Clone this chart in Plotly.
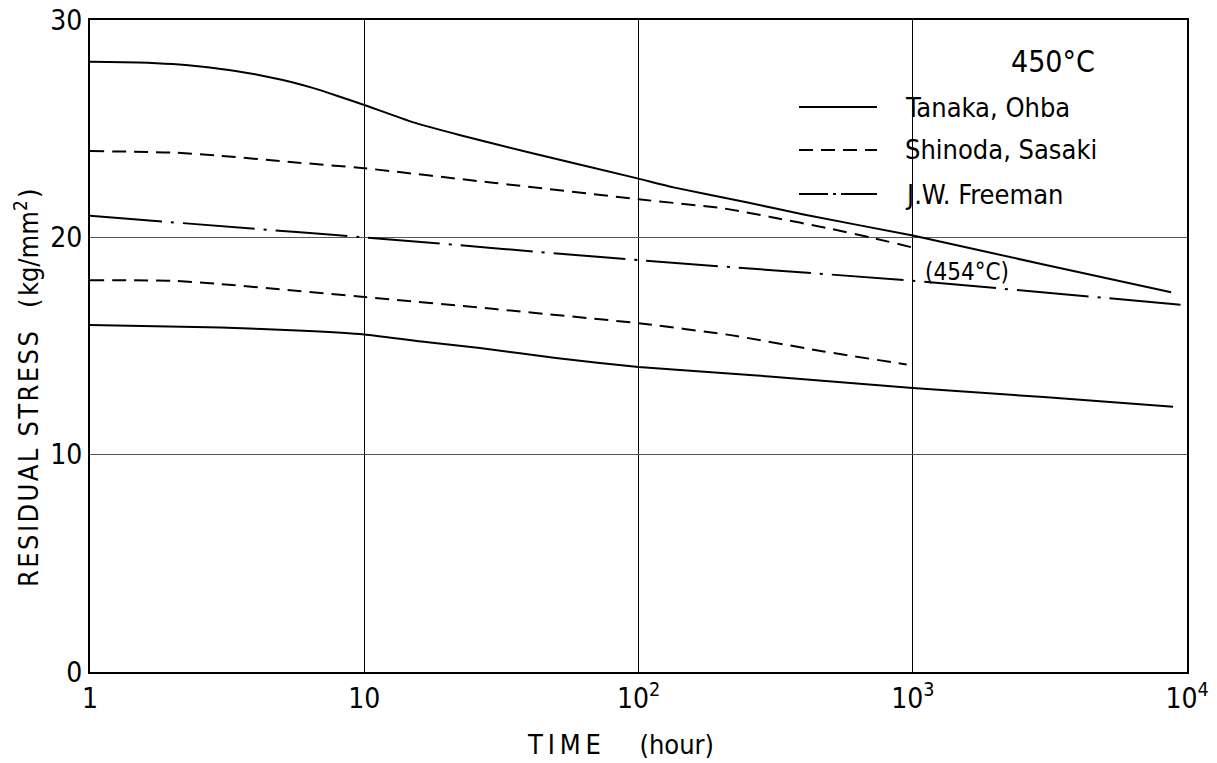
import math
import plotly.graph_objects as go

# ---- data ----
tanaka_upper_t = [1, 1.5, 2, 3, 4, 5, 6, 7, 8, 10, 15, 22.4, 40, 100, 134, 250, 400, 1000, 3000, 8750]
tanaka_upper_s = [28.08, 28.05, 27.97, 27.75, 27.5, 27.25, 27.0, 26.75, 26.5, 26.09, 25.3, 24.7,
                  23.9, 22.7, 22.3, 21.6, 21.05, 20.08, 18.75, 17.47]

shinoda_upper_t = [1, 2, 3, 5, 10, 30, 100, 200, 300, 500, 700, 1000]
shinoda_upper_s = [23.97, 23.9, 23.75, 23.5, 23.18, 22.5, 21.75, 21.35, 20.95, 20.4, 20.0, 19.53]

freeman_t = [1, 5.83, 10, 100, 1000, 9470]
freeman_s = [20.99, 20.23, 20.0, 18.95, 18.0, 16.9]

shinoda_lower_t = [1, 2, 3, 5, 10, 30, 100, 217, 473, 950]
shinoda_lower_s = [18.03, 18.0, 17.85, 17.6, 17.26, 16.7, 16.05, 15.5, 14.75, 14.15]

tanaka_lower_t = [1, 3, 6, 10, 17.4, 26.4, 50, 100, 300, 1000, 3000, 8900]
tanaka_lower_s = [15.97, 15.85, 15.7, 15.53, 15.16, 14.91, 14.45, 14.03, 13.6, 13.07, 12.65, 12.2]

x_tickvals = [1, 10, 100, 1000, 10000]
x_ticktext = ["1", "10", "10<sup>2</sup>", "10<sup>3</sup>", "10<sup>4</sup>"]
y_tickvals = [0, 10, 20, 30]
y_ticktext = ["0", "10", "20", "30"]

legend_names = ["Tanaka, Ohba", "Shinoda, Sasaki", "J.W. Freeman"]
note_t, note_s, note_text = 1090, 18.4, "(454°C)"

FONT = "DejaVu Sans Condensed, Liberation Sans Narrow, DejaVu Sans, sans-serif"
SOLID = "solid"
DASH = "14px,8px"
DASHDOT = "72px,9px,3px,9px"
DASHDOT_KEY = "29px,5px,3px,5px,40px"

fig = go.Figure()

def add_line(t, s, dash, name):
    fig.add_trace(go.Scatter(x=t, y=s, mode="lines", name=name,
                             line=dict(color="black", width=2, dash=dash, shape="spline", smoothing=0.4),
                             showlegend=False))

add_line(tanaka_upper_t, tanaka_upper_s, SOLID, legend_names[0])
add_line(shinoda_upper_t, shinoda_upper_s, DASH, legend_names[1])
add_line(freeman_t, freeman_s, DASHDOT, legend_names[2])
add_line(shinoda_lower_t, shinoda_lower_s, DASH, legend_names[1])
add_line(tanaka_lower_t, tanaka_lower_s, SOLID, legend_names[0])

W, H = 1217, 763
L, R, T, B = 90, 30, 20, 91
pw, ph = W - L - R, H - T - B

def px_to_paper(xp, yp):
    return (xp - L) / pw, 1 - (yp - T) / ph

# legend (keys drawn as shapes, labels as text)
dashes = [SOLID, DASH, DASHDOT_KEY]
ys = [107, 150, 194]
for name, d, yp in zip(legend_names, dashes, ys):
    x0, y0 = px_to_paper(799, yp)
    x1, _ = px_to_paper(877, yp)
    fig.add_shape(type="line", xref="paper", yref="paper", x0=x0, x1=x1, y0=y0, y1=y0,
                  line=dict(color="black", width=2, dash=d))
    tx, ty = px_to_paper(903, yp)
    fig.add_annotation(xref="paper", yref="paper", x=tx, y=ty, text=name, showarrow=False,
                       xanchor="left", yanchor="middle",
                       font=dict(family=FONT, size=27, color="black"))

tx, ty = px_to_paper(1053, 62)
fig.add_annotation(xref="paper", yref="paper", x=tx, y=ty, text="450°C", showarrow=False,
                   xanchor="center", yanchor="middle",
                   font=dict(family=FONT, size=30, color="black"))

fig.add_annotation(x=math.log10(note_t), y=note_s, xref="x", yref="y", text=note_text, showarrow=False,
                   xanchor="left", yanchor="middle",
                   font=dict(family=FONT, size=24, color="black"))

# axis titles
hs = "\u200a"
ytitle = hs.join("RESIDUAL") + "\u2002" + hs.join("STRESS") + "&nbsp;&nbsp;&nbsp;(" + hs + "kg/mm<sup>2</sup>" + hs + ")"
tx, ty = px_to_paper(26, 388)
fig.add_annotation(xref="paper", yref="paper", x=tx, y=ty,
                   text=ytitle,
                   textangle=-90, showarrow=False, xanchor="center", yanchor="middle",
                   font=dict(family=FONT, size=27, color="black"))
tx, ty = px_to_paper(620, 744)
fig.add_annotation(xref="paper", yref="paper", x=tx, y=ty,
                   text="T\u2009I\u2009M\u2009E&nbsp;&nbsp;&nbsp;&nbsp;&nbsp;(hour)",
                   showarrow=False, xanchor="center", yanchor="middle",
                   font=dict(family=FONT, size=27, color="black"))

fig.update_xaxes(type="log", range=[0, 4], tickvals=x_tickvals, ticktext=x_ticktext,
                 showgrid=True, gridcolor="black", gridwidth=1,
                 showline=True, linecolor="black", linewidth=2, mirror=True,
                 ticks="", zeroline=False, automargin=False,
                 tickfont=dict(family=FONT, size=28, color="black"))
fig.update_yaxes(range=[0, 30], tickvals=y_tickvals, ticktext=y_ticktext,
                 showgrid=True, gridcolor="#555555", gridwidth=1,
                 showline=True, linecolor="black", linewidth=2, mirror=True,
                 ticks="", zeroline=False, automargin=False,
                 tickfont=dict(family=FONT, size=28, color="black"))

fig.update_layout(width=W, height=H, margin=dict(l=L, r=R, t=T, b=B, autoexpand=False),
                  paper_bgcolor="white", plot_bgcolor="white", showlegend=False)

fig.write_html("out.html")
